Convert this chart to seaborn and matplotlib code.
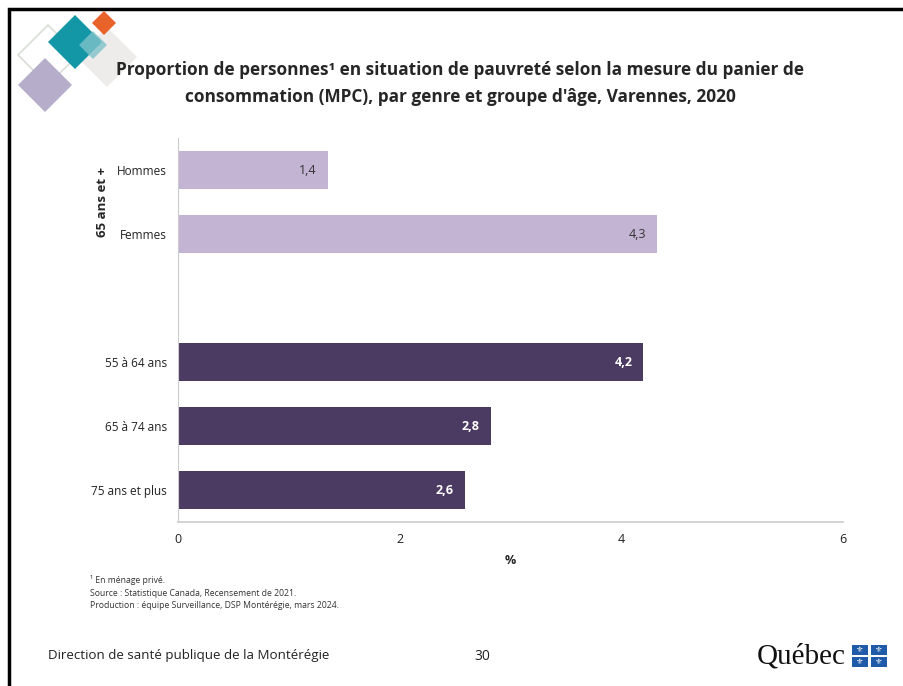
import matplotlib
matplotlib.use("Agg")
import matplotlib.pyplot as plt
import pandas as pd
import seaborn as sns
from matplotlib.patches import Rectangle, Polygon

categories = ["Hommes", "Femmes", "55 à 64 ans", "65 à 74 ans", "75 ans et plus"]
# bar lengths; labels as printed
values = [1.35, 4.32, 4.2, 2.82, 2.59]
value_labels = ["1,4", "4,3", "4,2", "2,8", "2,6"]
row_order = ["Hommes", "Femmes", "_gap", "55 à 64 ans", "65 à 74 ans", "75 ans et plus"]
group_label = "65 ans et +"
x_ticks = [0, 2, 4, 6]

LIGHT = "#C3B4D3"
DARK = "#4B3B63"
colors = {"Hommes": LIGHT, "Femmes": LIGHT, "55 à 64 ans": DARK, "65 à 74 ans": DARK, "75 ans et plus": DARK}

sns.set_style("white")
plt.rcParams["font.family"] = ["Open Sans", "DejaVu Sans"]

fig = plt.figure(figsize=(9.04, 6.86), dpi=100)
W, H = 904, 686


def px(x, y):
    return x / W, 1 - y / H


ax = fig.add_axes([178 / W, 1 - 522 / H, (843 - 178) / W, (522 - 138) / H])
df = pd.DataFrame({"cat": categories, "val": values})
sns.barplot(data=df, x="val", y="cat", order=row_order, hue="cat", palette=colors,
            legend=False, width=0.6, ax=ax, saturation=1, edgecolor="none")

ax.set_xlim(0, 6)
ax.set_xticks(x_ticks)
ax.set_xticklabels([str(t) for t in x_ticks], fontsize=9, color="#222222")
ax.set_yticks(range(len(row_order)))
ax.set_yticklabels([c if c != "_gap" else "" for c in row_order], fontsize=8.5, color="#222222")
ax.set_ylabel("")
ax.set_xlabel("%", fontsize=9, fontweight="bold", labelpad=6)
ax.tick_params(axis="y", length=0, pad=8)
ax.tick_params(axis="x", length=4, color="#BBBBBB", direction="inout", pad=6)
for side in ["top", "right"]:
    ax.spines[side].set_visible(False)
ax.spines["left"].set_color("#CCCCCC")
ax.spines["bottom"].set_color("#CCCCCC")
ax.spines["bottom"].set_linewidth(1.2)

for cat, v, lab in zip(categories, values, value_labels):
    yi = row_order.index(cat)
    light = colors[cat] == LIGHT
    ax.text(v - 0.1, yi, lab, ha="right", va="center", fontsize=9,
            color="#333333" if light else "white", fontweight="normal" if light else "bold")

fig.text(*px(103, 202), group_label, rotation=90, ha="center", va="center", fontsize=9.5, fontweight="bold")

fig.text(*px(460, 70), "Proportion de personnes¹ en situation de pauvreté selon la mesure du panier de",
         ha="center", va="center", fontsize=12.4, fontweight="bold")
fig.text(*px(460, 97), "consommation (MPC), par genre et groupe d'âge, Varennes, 2020",
         ha="center", va="center", fontsize=12.4, fontweight="bold")

foot = ["¹ En ménage privé.", "Source : Statistique Canada, Recensement de 2021.",
        "Production : équipe Surveillance, DSP Montérégie, mars 2024."]
for i, line in enumerate(foot):
    fig.text(*px(90, 580 + i * 13), line, ha="left", va="center", fontsize=6.2, color="#333333")

fig.text(*px(48, 656), "Direction de santé publique de la Montérégie", ha="left", va="center", fontsize=9.6, color="#222222")
fig.text(*px(482, 656), "30", ha="center", va="center", fontsize=10, color="#222222")

# Québec logo
fig.text(*px(757, 657), "Québec", ha="left", va="center", fontsize=21, family="Liberation Serif", color="#111111")
for (cx, cy) in [(860, 650), (879, 650), (860, 662), (879, 662)]:
    x0, y0 = px(cx - 8, cy + 5)
    fig.patches.append(Rectangle((x0, y0), 16 / W, 10 / H, transform=fig.transFigure,
                                 facecolor="#1F5BA8", edgecolor="none"))
    fig.text(*px(cx, cy), "⚜", ha="center", va="center", fontsize=6, color="white", family="DejaVu Sans")

# slide frame
fig.patches.append(Rectangle(px(9, 700), 920 / W, 691 / H, transform=fig.transFigure,
                             facecolor="none", edgecolor="black", linewidth=2.5))


def diamond(cx, cy, r, **kw):
    pts = [px(cx, cy - r), px(cx + r, cy), px(cx, cy + r), px(cx - r, cy)]
    fig.patches.append(Polygon(pts, closed=True, transform=fig.transFigure, **kw))


diamond(48, 55, 30, facecolor="none", edgecolor="#D8DDD5", linewidth=1.2)
diamond(45, 85, 27, facecolor="#B5ADC9", edgecolor="none")
diamond(107, 57, 30, facecolor="#EEECEA", edgecolor="none")
diamond(75, 42, 27, facecolor="#1396A6", edgecolor="none")
diamond(104, 23, 12, facecolor="#E8622A", edgecolor="none")
diamond(93, 45, 14, facecolor="#7FC2CA", edgecolor="none", alpha=0.8)

fig.savefig("out.png", dpi=100)
